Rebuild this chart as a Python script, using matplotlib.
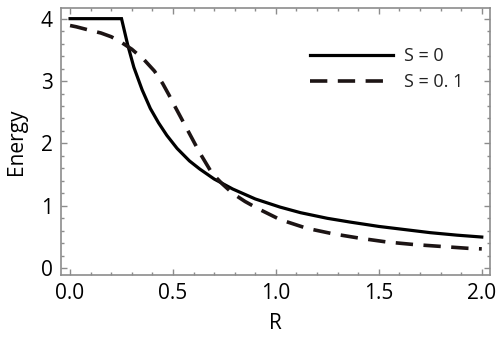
import matplotlib
matplotlib.use("Agg")
import matplotlib.pyplot as plt
from matplotlib.ticker import MultipleLocator

plt.rcParams['font.family'] = ['Open Sans', 'DejaVu Sans']

# Solid curve: S = 0
r_s0 = [0.0, 0.10, 0.20, 0.25, 0.28, 0.31, 0.35, 0.39, 0.43, 0.47, 0.52, 0.58, 0.63,
        0.70, 0.79, 0.90, 1.02, 1.12, 1.25, 1.36, 1.50, 1.60, 1.75, 1.88, 2.0]
e_s0 = [4.0, 4.0, 4.0, 4.0, 3.58, 3.22, 2.86, 2.56, 2.33, 2.13, 1.92, 1.72, 1.59,
        1.43, 1.27, 1.11, 0.98, 0.89, 0.80, 0.74, 0.67, 0.63, 0.57, 0.53, 0.50]

# Dashed curve: S = 0.1
r_s1 = [0.0, 0.03, 0.10, 0.15, 0.20, 0.24, 0.30, 0.36, 0.41, 0.45, 0.48, 0.51, 0.57, 0.63,
        0.69, 0.74, 0.79, 0.85, 0.91, 1.02, 1.15, 1.28, 1.41, 1.54, 1.67, 1.80, 1.93, 2.0]
e_s1 = [3.89, 3.87, 3.81, 3.77, 3.71, 3.64, 3.51, 3.34, 3.16, 2.96, 2.78, 2.59, 2.22, 1.85,
        1.52, 1.35, 1.20, 1.07, 0.96, 0.78, 0.64, 0.55, 0.48, 0.42, 0.38, 0.35, 0.32, 0.31]

labels = ["S = 0", "S = 0. 1"]
x_ticks = [0.0, 0.5, 1.0, 1.5, 2.0]
x_tick_labels = ["0.0", "0.5", "1.0", "1.5", "2.0"]
y_ticks = [0, 1, 2, 3, 4]

fig = plt.figure(figsize=(5, 3.5), dpi=100)
ax = fig.add_axes([0.122, 0.214, 0.858, 0.763])

ax.plot(r_s0, e_s0, color='black', lw=2.3, label=labels[0], solid_joinstyle='miter')
ax.plot(r_s1, e_s1, color='#1c1414', lw=2.6, linestyle=(0, (4.8, 2.9)), label=labels[1])

ax.set_xlim(-0.044, 2.04)
ax.set_ylim(-0.11, 4.17)
ax.set_xticks(x_ticks)
ax.set_xticklabels(x_tick_labels)
ax.set_yticks(y_ticks)
ax.xaxis.set_minor_locator(MultipleLocator(0.1))
ax.yaxis.set_minor_locator(MultipleLocator(0.2))

for s in ax.spines.values():
    s.set_color('#8c8c8c')
    s.set_linewidth(1.2)
ax.tick_params(which='both', direction='in', top=True, right=True, color='#8c8c8c',
               labelsize=15, labelcolor='black', width=1.0, pad=6)
ax.tick_params(which='major', length=4.5)
ax.tick_params(which='minor', length=2.5)

ax.set_xlabel("R", fontsize=15, labelpad=6)
ax.set_ylabel("Energy", fontsize=15, labelpad=10)

leg = ax.legend(loc='upper right', bbox_to_anchor=(0.975, 0.915), frameon=False, fontsize=13,
                handlelength=4.6, handletextpad=0.6, labelspacing=0.45)
for t in leg.get_texts():
    t.set_color('#222222')

fig.savefig("out.png", dpi=100)
